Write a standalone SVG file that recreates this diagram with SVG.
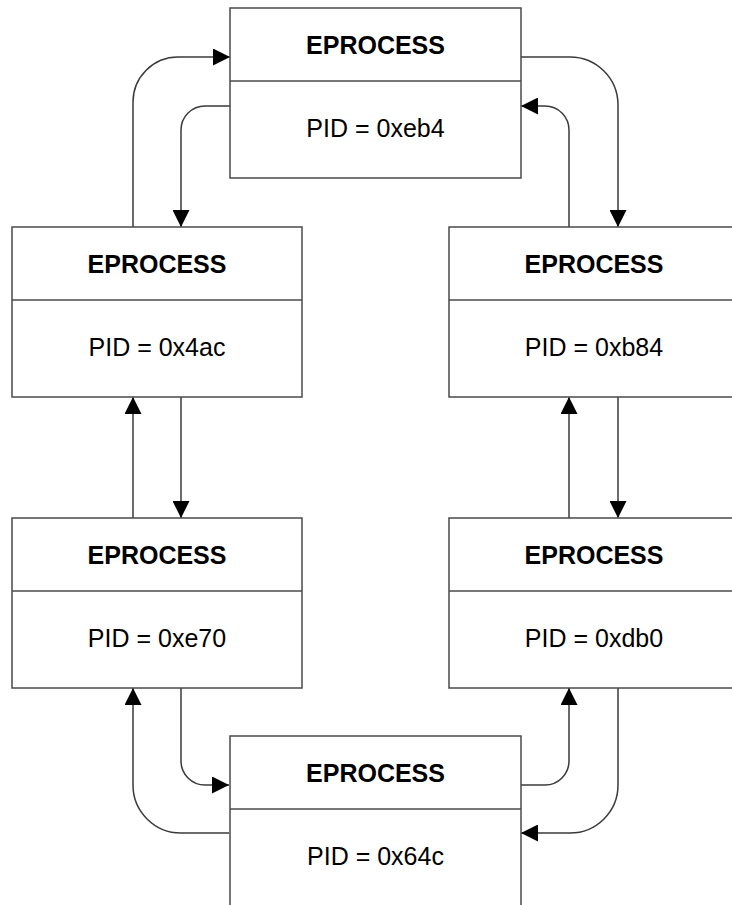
<svg xmlns="http://www.w3.org/2000/svg" width="732" height="905" viewBox="0 0 732 905">
<style>
.box{fill:#fff;stroke:#4a4a4a;stroke-width:1.5}
.div{stroke:#4a4a4a;stroke-width:1.5}
.t{font-family:"Liberation Sans",Arial,sans-serif;font-size:25px;fill:#000;text-anchor:middle}
.b{font-weight:bold}
.c{fill:none;stroke:#3a3a3a;stroke-width:1.5;marker-end:url(#ah)}
</style>
<defs>
<marker id="ah" markerUnits="userSpaceOnUse" markerWidth="17" markerHeight="17" refX="17" refY="8.5" orient="auto">
<path d="M0,0 L17,8.5 L0,17 z" fill="#000"/>
</marker>
</defs>
<rect width="732" height="905" fill="#fff"/>
<g id="connectors">
<path class="c" d="M133,227 V102 A45,45 0 0 1 178,57 H230"/>
<path class="c" d="M230,106 H205 A24,24 0 0 0 181,130 V227"/>
<path class="c" d="M521,57 H570 A48,48 0 0 1 618,105 V227"/>
<path class="c" d="M569,227 V130 A24,24 0 0 0 545,106 H521"/>
<path class="c" d="M133,518 V397"/>
<path class="c" d="M181,397 V518"/>
<path class="c" d="M569,518 V397"/>
<path class="c" d="M618,397 V518"/>
<path class="c" d="M181,688 V761 A24,24 0 0 0 205,785 H229"/>
<path class="c" d="M229,833 H181 A48,48 0 0 1 133,785 V688"/>
<path class="c" d="M521,785 H545 A24,24 0 0 0 569,761 V688"/>
<path class="c" d="M618,688 V785 A48,48 0 0 1 570,833 H521"/>
</g>
<g id="n_eb4">
<rect class="box" x="230" y="8" width="291" height="170"/>
<line class="div" x1="230" y1="81" x2="521" y2="81"/>
<text class="t b" x="375.5" y="53.5">EPROCESS</text>
<text class="t" x="375.5" y="136.5">PID = 0xeb4</text>
</g>
<g id="n_4ac">
<rect class="box" x="12" y="227" width="290" height="170"/>
<line class="div" x1="12" y1="300" x2="302" y2="300"/>
<text class="t b" x="157" y="272.5">EPROCESS</text>
<text class="t" x="157" y="355.5">PID = 0x4ac</text>
</g>
<g id="n_b84">
<rect class="box" x="449" y="227" width="290" height="170"/>
<line class="div" x1="449" y1="300" x2="739" y2="300"/>
<text class="t b" x="594" y="272.5">EPROCESS</text>
<text class="t" x="594" y="355.5">PID = 0xb84</text>
</g>
<g id="n_e70">
<rect class="box" x="12" y="518" width="290" height="170"/>
<line class="div" x1="12" y1="591" x2="302" y2="591"/>
<text class="t b" x="157" y="563.5">EPROCESS</text>
<text class="t" x="157" y="646.5">PID = 0xe70</text>
</g>
<g id="n_db0">
<rect class="box" x="449" y="518" width="290" height="170"/>
<line class="div" x1="449" y1="591" x2="739" y2="591"/>
<text class="t b" x="594" y="563.5">EPROCESS</text>
<text class="t" x="594" y="646.5">PID = 0xdb0</text>
</g>
<g id="n_64c">
<rect class="box" x="230" y="736" width="291" height="172"/>
<line class="div" x1="230" y1="809" x2="521" y2="809"/>
<text class="t b" x="375.5" y="781.5">EPROCESS</text>
<text class="t" x="375.5" y="864.5">PID = 0x64c</text>
</g>
</svg>
